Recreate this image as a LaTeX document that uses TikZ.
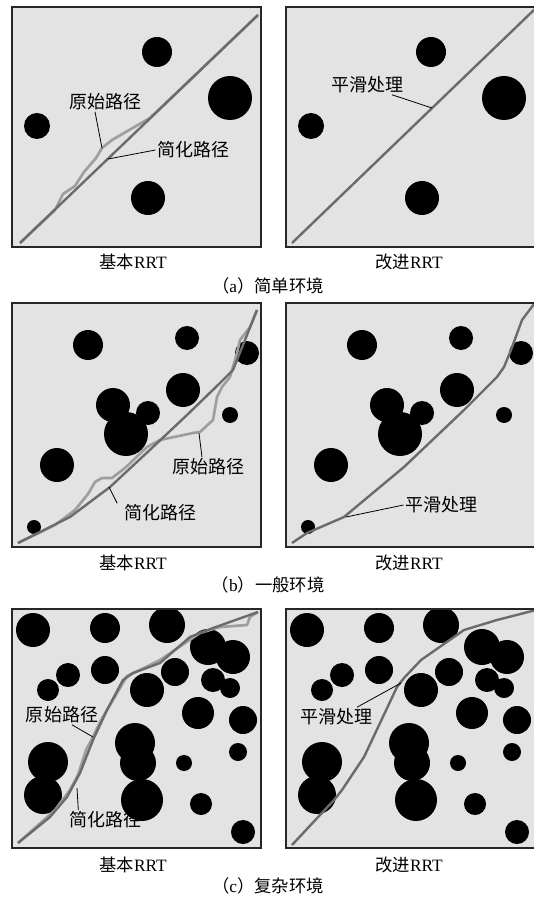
\documentclass[tikz,border=0pt]{standalone}
\usepackage{fontspec}
\setmainfont{Liberation Serif}
\newfontfamily\cjk{Noto Sans CJK SC}

% obstacle lists (x/y/radius), same in both panels of a row
\newcommand\obsEasy{157/52/15, 230/98/22, 37/126/13, 148/198/17}
\newcommand\obsMid{88/345/15, 187/338/12, 247/353/12, 183/390/17, 113/405/17, 148/413/12, 126/434/22, 230/415/8, 57/465/17, 34/527/7}
\newcommand\obsHard{33/630/17, 105/628/15, 167/625/18, 208/647/18, 233/657/17, 213/680/12, 230/688/10, 68/675/12, 105/670/14, 48/690/11, 175/672/14, 147/690/17, 198/713/16, 243/720/14, 135/743/20, 138/763/18, 48/762/20, 43/795/19, 238/752/9, 184/763/8, 142/800/21, 201/804/11, 243/832/12}

\tikzset{every picture/.style={line width=0.75pt}}
\tikzset{
  field/.style={fill=black!11},
  frame/.style={draw=black!85, line width=2.2pt},
  obst/.style={fill=black},
  rawpath/.style={draw=black!38, line width=2pt, line join=round},
  simppath/.style={draw=black!58, line width=1.8pt, line join=round},
  lbl/.style={inner sep=0.75pt, font=\cjk\fontsize{13.5}{15}\selectfont},
  sub/.style={inner sep=0.75pt, font=\fontsize{13}{15}\selectfont},
  lead/.style={draw=black, line width=0.6pt}
}

\begin{document}
\begin{tikzpicture}[x=0.75pt,y=0.75pt,yscale=-1,xscale=1]
  \useasboundingbox (0,0) rectangle (534,898);

  %% ---- row (a) ----
  \foreach \dx in {0,274}{
    \begin{scope}[shift={(\dx,0)}]
      \fill[field] (12,7) rectangle (261,247);
      \begin{scope}
        \clip (12,7) rectangle (261,247);
        \foreach \cx/\cy/\r in \obsEasy { \fill[obst] (\cx,\cy) circle (\r); }
      \end{scope}
    \end{scope}
  }
  % basic RRT paths
  \draw[rawpath] (20,243) -- (55,210) -- (63,194) -- (75,186) -- (84,172) -- (96,158) -- (102,148) -- (112,140) -- (150,118) -- (258,15);
  \draw[simppath] (20,243) -- (258,15);
  % improved RRT path
  \draw[simppath] (292,243) -- (536,8);
  \draw[frame] (12,7) rectangle (261,247);
  \draw[frame] (286,7) rectangle (535,247);

  \node[lbl] (aRaw) at (105,102) {原始路径};
  \node[lbl] (aSimp) at (193,150) {简化路径};
  \node[lbl] (aSmooth) at (367,85) {平滑处理};
  \coordinate (aRawPt) at (102,148);
  \coordinate (aSimpPt) at (108,159);
  \coordinate (aSmoothPt) at (432,108);
  \draw[lead] ([xshift=-7.5pt]aRaw.south) -- (aRawPt);
  \draw[lead] (aSimp.west) -- (aSimpPt);
  \draw[lead] ([xshift=18.75pt]aSmooth.south) -- (aSmoothPt);

  \node[sub] (aBasic) at (133,262) {\cjk 基本\rmfamily RRT};
  \node[sub] (aImpr) at (409,262) {\cjk 改进\rmfamily RRT};
  \node[sub] (aCap) at (268,286) {\cjk （\rmfamily a\cjk ）简单环境};

  %% ---- row (b) ----
  \foreach \dx in {0,274}{
    \begin{scope}[shift={(\dx,0)}]
      \fill[field] (12,303) rectangle (261,547);
      \begin{scope}
        \clip (12,303) rectangle (261,547);
        \foreach \cx/\cy/\r in \obsMid { \fill[obst] (\cx,\cy) circle (\r); }
      \end{scope}
    \end{scope}
  }
  \draw[rawpath] (18,543) -- (55,525) -- (75,510) -- (88,494) -- (95,482) -- (102,478) -- (112,478) -- (125,468) -- (147,447) -- (160,440) -- (193,433) -- (200,432) -- (213,420) -- (217,397) -- (222,387) -- (230,377) -- (237,353) -- (240,340) -- (250,327) -- (257,310);
  \draw[simppath] (18,543) -- (70,517) -- (110,487) -- (153,447) -- (187,415) -- (220,383) -- (233,370) -- (241,350) -- (257,310);
  \draw[simppath] (292,543) -- (307,533) -- (344,517) -- (404,467) -- (464,410) -- (497,377) -- (504,367) -- (511,350) -- (522,320) -- (534,304);
  \draw[frame] (12,303) rectangle (261,547);
  \draw[frame] (286,303) rectangle (535,547);

  \node[lbl] (bRaw) at (208,467) {原始路径};
  \node[lbl] (bSimp) at (160,513) {简化路径};
  \node[lbl] (bSmooth) at (441,505) {平滑处理};
  \coordinate (bRawPt) at (199,433);
  \coordinate (bSimpPt) at (109,487);
  \coordinate (bSmoothPt) at (346,517);
  \draw[lead] ([xshift=-4.5pt]bRaw.north) -- (bRawPt);
  \draw[lead] ([xshift=-4pt]bSimp.north west) -- (bSimpPt);
  \draw[lead] (bSmooth.west) -- (bSmoothPt);

  \node[sub] (bBasic) at (133,563) {\cjk 基本\rmfamily RRT};
  \node[sub] (bImpr) at (409,563) {\cjk 改进\rmfamily RRT};
  \node[sub] (bCap) at (268,585) {\cjk （\rmfamily b\cjk ）一般环境};

  %% ---- row (c) ----
  \foreach \dx in {0,274}{
    \begin{scope}[shift={(\dx,0)}]
      \fill[field] (12,609) rectangle (261,848);
      \begin{scope}
        \clip (12,609) rectangle (261,848);
        \foreach \cx/\cy/\r in \obsHard { \fill[obst] (\cx,\cy) circle (\r); }
      \end{scope}
    \end{scope}
  }
  \draw[rawpath] (18,843) -- (55,810) -- (70,790) -- (78,775) -- (86,750) -- (93,737) -- (100,722) -- (110,705) -- (120,688) -- (127,676) -- (140,670) -- (160,660) -- (185,643) -- (200,633) -- (220,627) -- (247,625) -- (250,617) -- (258,612);
  \draw[simppath] (18,843) -- (50,817) -- (67,797) -- (80,773) -- (93,740) -- (107,710) -- (123,680) -- (133,673) -- (160,663) -- (190,637) -- (213,628) -- (258,612);
  \draw[simppath] (292,845) -- (334,800) -- (342,790) -- (364,757) -- (397,687) -- (404,678) -- (421,660) -- (464,630) -- (497,620) -- (536,610);
  \draw[frame] (12,609) rectangle (261,848);
  \draw[frame] (286,609) rectangle (535,848);

  \node[lbl] (cRaw) at (62,715) {原始路径};
  \node[lbl] (cSimp) at (105,820) {简化路径};
  \node[lbl] (cSmooth) at (336,717) {平滑处理};
  \coordinate (cRawPt) at (93,737);
  \coordinate (cSimpPt) at (77,788);
  \coordinate (cSmoothPt) at (401,683);
  \draw[lead] ([xshift=7.5pt]cRaw.south) -- (cRawPt);
  \draw[lead] ([xshift=-20pt]cSimp.north) -- (cSimpPt);
  \draw[lead] ([xshift=15.75pt]cSmooth.north) -- (cSmoothPt);

  \node[sub] (cBasic) at (133,865) {\cjk 基本\rmfamily RRT};
  \node[sub] (cImpr) at (409,865) {\cjk 改进\rmfamily RRT};
  \node[sub] (cCap) at (268,886) {\cjk （\rmfamily c\cjk ）复杂环境};
\end{tikzpicture}
\end{document}
